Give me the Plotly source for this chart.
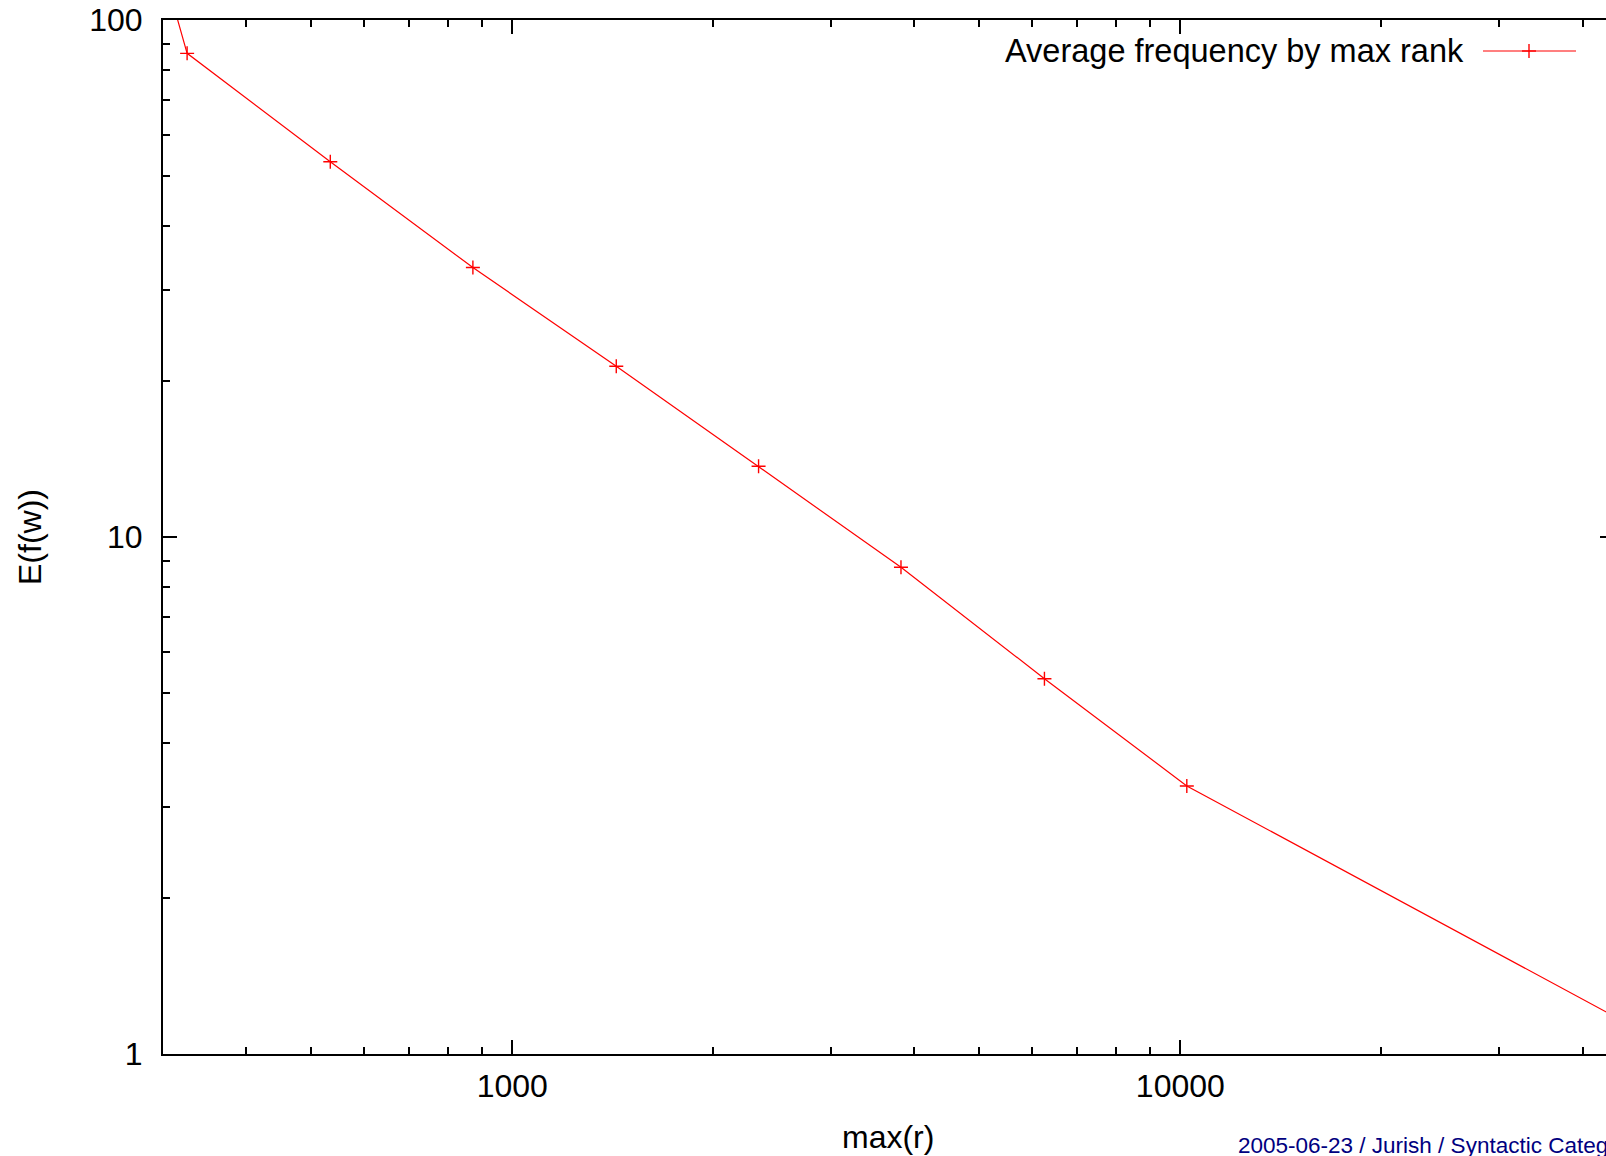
import math
import plotly.graph_objects as go

# Average word frequency E(f(w)) against the maximum rank max(r)
max_rank = [300, 326, 534, 873, 1431, 2337, 3818, 6260, 10226, 44500]
avg_freq = [126, 86.2, 53.2, 33.2, 21.4, 13.7, 8.74, 5.32, 3.30, 1.185]
series_name = "Average frequency by max rank"

x_major = [1000, 10000]
x_major_text = ["1000", "10000"]
x_minor = [400, 500, 600, 700, 800, 900,
           2000, 3000, 4000, 5000, 6000, 7000, 8000, 9000,
           20000, 30000, 40000]
y_major = [1, 10, 100]
y_major_text = ["1", "10", "100"]
y_minor = [2, 3, 4, 5, 6, 7, 8, 9, 20, 30, 40, 50, 60, 70, 80, 90]

footer_text = "2005-06-23 / Jurish / Syntactic Categories"

# page geometry (pixels)
W, H = 1606, 1156
ML, MR, MT, MB = 163, 0, 20, 102
PW, PH = W - ML - MR, H - MT - MB

X_RANGE = [math.log10(300), 4.6372]
Y_RANGE = [0, 2]

FONT = "Liberation Sans, Arial, Helvetica, sans-serif"
RED = "#ff0000"


def px_x(px):
    return (px - ML) / PW


def px_y(py):
    return (H - MB - py) / PH


fig = go.Figure()
fig.add_trace(go.Scatter(
    x=max_rank, y=avg_freq, mode="lines+markers", name=series_name,
    line=dict(color=RED, width=1.2),
    marker=dict(symbol="cross-thin", size=10, line=dict(color=RED, width=1.4)),
    showlegend=False,
))

axis_common = dict(
    type="log",
    showgrid=False, zeroline=False,
    showline=True, linecolor="black", linewidth=2,
    ticks="inside", ticklen=14, tickwidth=2, tickcolor="black",
    tickfont=dict(family=FONT, size=32, color="black"),
)

fig.update_xaxes(
    range=X_RANGE, tickvals=x_major, ticktext=x_major_text,
    mirror="ticks", ticklabelstandoff=3,
    minor=dict(tickvals=x_minor, ticks="inside", ticklen=7, tickwidth=2,
               tickcolor="black", showgrid=False),
    **axis_common,
)
fig.update_yaxes(
    range=Y_RANGE, tickvals=y_major, ticktext=y_major_text,
    mirror=False, ticklabelstandoff=12,
    minor=dict(tickvals=y_minor, ticks="inside", ticklen=7, tickwidth=2,
               tickcolor="black", showgrid=False),
    **axis_common,
)

annotations = [
    # axis titles
    dict(text="max(r)", x=px_x(888), y=px_y(1137), xref="paper", yref="paper",
         xanchor="center", yanchor="middle", showarrow=False,
         font=dict(family=FONT, size=32, color="black")),
    dict(text="E(f(w))", x=px_x(30), y=0.5, xref="paper", yref="paper",
         xanchor="center", yanchor="middle", textangle=-90, showarrow=False,
         font=dict(family=FONT, size=32, color="black")),
    # key text
    dict(text=series_name, x=px_x(1466), y=px_y(51), xref="paper", yref="paper",
         xanchor="right", yanchor="middle", showarrow=False,
         font=dict(family=FONT, size=32.5, color="black")),
    # footer
    dict(text=footer_text, x=px_x(1236), y=px_y(1145), xref="paper", yref="paper",
         xanchor="left", yanchor="middle", showarrow=False,
         font=dict(family=FONT, size=22.5, color="#000080")),
]

key_y = px_y(51)
key_mid = px_x(1529)
shapes = [
    # key sample line with its marker
    dict(type="line", xref="paper", yref="paper",
         x0=px_x(1483), x1=px_x(1576), y0=key_y, y1=key_y,
         line=dict(color=RED, width=1.2)),
    dict(type="line", xref="paper", yref="paper",
         x0=px_x(1522), x1=px_x(1536), y0=key_y, y1=key_y,
         line=dict(color=RED, width=1.4)),
    dict(type="line", xref="paper", yref="paper",
         x0=key_mid, x1=key_mid, y0=px_y(44), y1=px_y(58),
         line=dict(color=RED, width=1.4)),
    # mirrored major tick of the right border at y = 10
    dict(type="line", xref="paper", yref="paper",
         x0=px_x(1600), x1=1.0, y0=0.5, y1=0.5,
         line=dict(color="black", width=2)),
]

fig.update_layout(
    width=W, height=H,
    margin=dict(l=ML, r=MR, t=MT, b=MB, autoexpand=False),
    paper_bgcolor="white", plot_bgcolor="white",
    font=dict(family=FONT, color="black"),
    annotations=annotations, shapes=shapes,
    showlegend=False,
)

fig.write_html("out.html")
